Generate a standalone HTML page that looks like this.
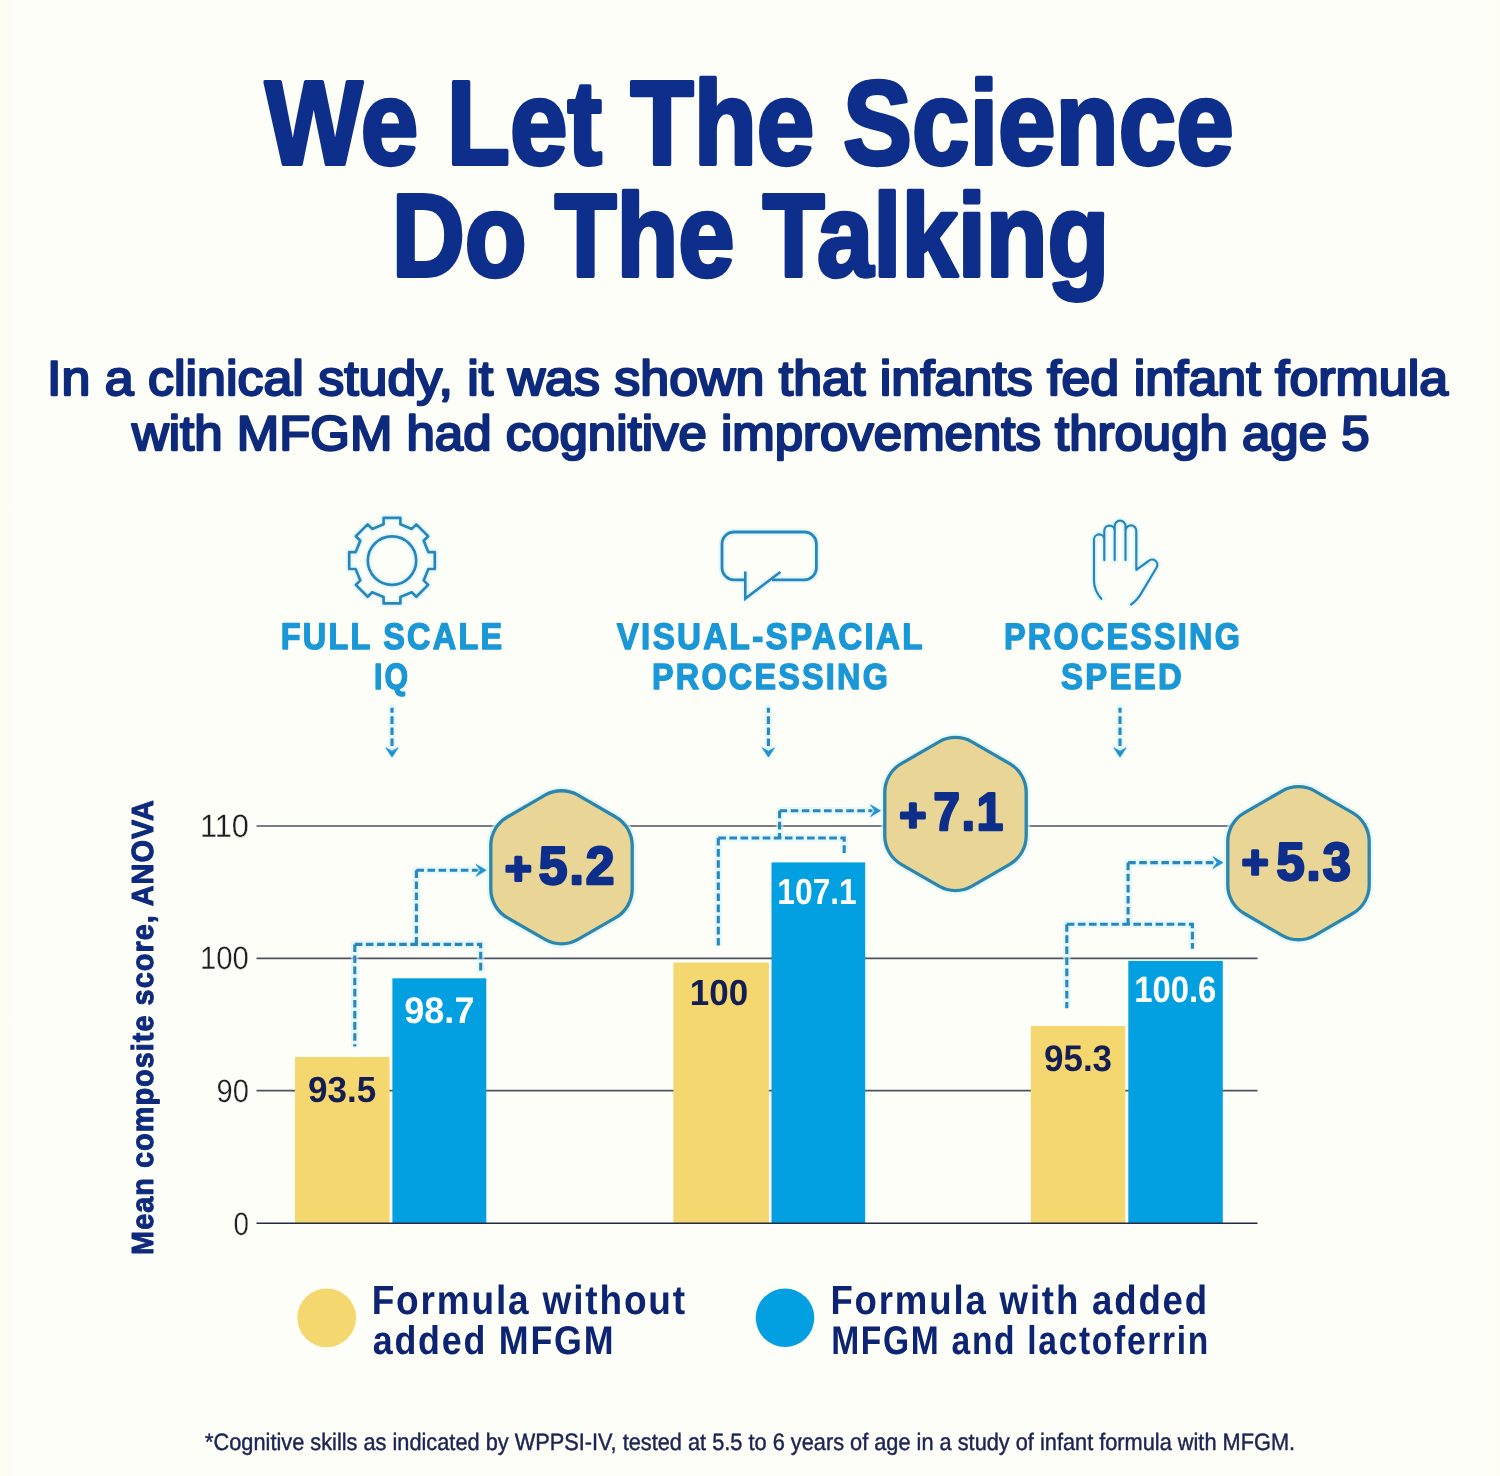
<!DOCTYPE html>
<html lang="en"><head><meta charset="utf-8"><title>We Let The Science Do The Talking</title>
<style>html,body{margin:0;padding:0;background:#fefef9;}body{width:1500px;height:1476px;overflow:hidden;font-family:"Liberation Sans",sans-serif}svg{display:block}</style>
</head><body>
<svg width="1500" height="1476" viewBox="0 0 1500 1476" font-family="'Liberation Sans', Arial, sans-serif" text-rendering="geometricPrecision">
<rect width="1500" height="1476" fill="#fefef9"/>
<defs><linearGradient id="eL" x1="0" x2="1" y1="0" y2="0"><stop offset="0" stop-color="#fbfaee" stop-opacity="0.45"/><stop offset="1" stop-color="#faf8ea" stop-opacity="0"/></linearGradient><linearGradient id="eR" x1="1" x2="0" y1="0" y2="0"><stop offset="0" stop-color="#fbfaee" stop-opacity="0.45"/><stop offset="1" stop-color="#faf8ea" stop-opacity="0"/></linearGradient></defs>
<rect x="0" y="0" width="16" height="1476" fill="url(#eL)"/>
<rect x="1484" y="0" width="16" height="1476" fill="url(#eR)"/>
<line x1="256.5" x2="1257.5" y1="826" y2="826" stroke="#4d525f" stroke-width="1.6"/>
<line x1="256.5" x2="1257.5" y1="958.4" y2="958.4" stroke="#4d525f" stroke-width="1.6"/>
<line x1="256.5" x2="1257.5" y1="1090.6" y2="1090.6" stroke="#4d525f" stroke-width="1.6"/>
<rect x="295" y="1057" width="94.6" height="166.0" fill="#f5d76f"/>
<rect x="392.4" y="978.3" width="93.9" height="244.7" fill="#03a0e1"/>
<rect x="673.4" y="962.5" width="95.5" height="260.5" fill="#f5d76f"/>
<rect x="771.5" y="862.4" width="93.7" height="360.6" fill="#03a0e1"/>
<rect x="1030.8" y="1026" width="94.5" height="197.0" fill="#f5d76f"/>
<rect x="1128.3" y="960.9" width="94.5" height="262.1" fill="#03a0e1"/>
<line x1="256.5" x2="1257.5" y1="1223.2" y2="1223.2" stroke="#242a45" stroke-width="1.5"/>
<path d="M392,707.8 V746.8" fill="none" stroke="#d3f4fd" stroke-width="7.6" stroke-opacity="0.6" stroke-linejoin="round" stroke-linecap="round"/>
<path d="M392,707.8 V746.8" fill="none" stroke="#2a86bb" stroke-width="3.1" stroke-dasharray="7.6 3.5" stroke-dashoffset="2.6"/>
<path d="M386,747.9 L392,751.2 L398,747.9 L392,757 Z" fill="none" stroke="#d3f4fd" stroke-width="4" stroke-opacity="0.6" stroke-linejoin="round" />
<path d="M386,747.9 L392,751.2 L398,747.9 L392,757 Z" fill="#2191cf" stroke="#2191cf" stroke-width="0.8" stroke-linejoin="round"/>
<path d="M768.4,707.8 V746.8" fill="none" stroke="#d3f4fd" stroke-width="7.6" stroke-opacity="0.6" stroke-linejoin="round" stroke-linecap="round"/>
<path d="M768.4,707.8 V746.8" fill="none" stroke="#2a86bb" stroke-width="3.1" stroke-dasharray="7.6 3.5" stroke-dashoffset="2.6"/>
<path d="M762.4,747.9 L768.4,751.2 L774.4,747.9 L768.4,757 Z" fill="none" stroke="#d3f4fd" stroke-width="4" stroke-opacity="0.6" stroke-linejoin="round" />
<path d="M762.4,747.9 L768.4,751.2 L774.4,747.9 L768.4,757 Z" fill="#2191cf" stroke="#2191cf" stroke-width="0.8" stroke-linejoin="round"/>
<path d="M1120,707.8 V746.8" fill="none" stroke="#d3f4fd" stroke-width="7.6" stroke-opacity="0.6" stroke-linejoin="round" stroke-linecap="round"/>
<path d="M1120,707.8 V746.8" fill="none" stroke="#2a86bb" stroke-width="3.1" stroke-dasharray="7.6 3.5" stroke-dashoffset="2.6"/>
<path d="M1114,747.9 L1120,751.2 L1126,747.9 L1120,757 Z" fill="none" stroke="#d3f4fd" stroke-width="4" stroke-opacity="0.6" stroke-linejoin="round" />
<path d="M1114,747.9 L1120,751.2 L1126,747.9 L1120,757 Z" fill="#2191cf" stroke="#2191cf" stroke-width="0.8" stroke-linejoin="round"/>
<path d="M354.8,1046.4 V944.4 H480.7 V973.3" fill="none" stroke="#d3f4fd" stroke-width="7.6" stroke-opacity="0.6" stroke-linejoin="round" />
<path d="M416.4,944.4 V870.3 H478" fill="none" stroke="#d3f4fd" stroke-width="7.6" stroke-opacity="0.6" stroke-linejoin="round" />
<path d="M354.8,944.4 V1046.4" fill="none" stroke="#2a86bb" stroke-width="3.1" stroke-dasharray="7.6 3.5"/>
<path d="M354.8,944.4 H480.7 V973.3" fill="none" stroke="#2a86bb" stroke-width="3.1" stroke-dasharray="7.6 3.5"/>
<path d="M416.4,870.3 V944.4" fill="none" stroke="#2a86bb" stroke-width="3.1" stroke-dasharray="7.6 3.5"/>
<path d="M416.4,870.3 H479" fill="none" stroke="#2a86bb" stroke-width="3.1" stroke-dasharray="7.6 3.5"/>
<path d="M476.2,864.5 L486,870.3 L476.2,876.0999999999999 L480.4,870.3 Z" fill="none" stroke="#d3f4fd" stroke-width="4" stroke-opacity="0.6" stroke-linejoin="round" />
<path d="M476.2,864.5 L486,870.3 L476.2,876.0999999999999 L480.4,870.3 Z" fill="#2191cf" stroke="#2191cf" stroke-width="0.8" stroke-linejoin="round"/>
<path d="M718.3,945.5 V838 H844.2 V853" fill="none" stroke="#d3f4fd" stroke-width="7.6" stroke-opacity="0.6" stroke-linejoin="round" />
<path d="M779.6,838 V810.7 H872.4" fill="none" stroke="#d3f4fd" stroke-width="7.6" stroke-opacity="0.6" stroke-linejoin="round" />
<path d="M718.3,838 V945.5" fill="none" stroke="#2a86bb" stroke-width="3.1" stroke-dasharray="7.6 3.5"/>
<path d="M718.3,838 H844.2 V853" fill="none" stroke="#2a86bb" stroke-width="3.1" stroke-dasharray="7.6 3.5"/>
<path d="M779.6,810.7 V838" fill="none" stroke="#2a86bb" stroke-width="3.1" stroke-dasharray="7.6 3.5"/>
<path d="M779.6,810.7 H873.4" fill="none" stroke="#2a86bb" stroke-width="3.1" stroke-dasharray="7.6 3.5"/>
<path d="M870.6,804.9000000000001 L880.4,810.7 L870.6,816.5 L874.8,810.7 Z" fill="none" stroke="#d3f4fd" stroke-width="4" stroke-opacity="0.6" stroke-linejoin="round" />
<path d="M870.6,804.9000000000001 L880.4,810.7 L870.6,816.5 L874.8,810.7 Z" fill="#2191cf" stroke="#2191cf" stroke-width="0.8" stroke-linejoin="round"/>
<path d="M1066.8,1008.3 V924.2 H1192.4 V948.8" fill="none" stroke="#d3f4fd" stroke-width="7.6" stroke-opacity="0.6" stroke-linejoin="round" />
<path d="M1128.1,924.2 V862.6 H1214.8" fill="none" stroke="#d3f4fd" stroke-width="7.6" stroke-opacity="0.6" stroke-linejoin="round" />
<path d="M1066.8,924.2 V1008.3" fill="none" stroke="#2a86bb" stroke-width="3.1" stroke-dasharray="7.6 3.5"/>
<path d="M1066.8,924.2 H1192.4 V948.8" fill="none" stroke="#2a86bb" stroke-width="3.1" stroke-dasharray="7.6 3.5"/>
<path d="M1128.1,862.6 V924.2" fill="none" stroke="#2a86bb" stroke-width="3.1" stroke-dasharray="7.6 3.5"/>
<path d="M1128.1,862.6 H1215.8" fill="none" stroke="#2a86bb" stroke-width="3.1" stroke-dasharray="7.6 3.5"/>
<path d="M1213.0,856.8000000000001 L1222.8,862.6 L1213.0,868.4 L1217.2,862.6 Z" fill="none" stroke="#d3f4fd" stroke-width="4" stroke-opacity="0.6" stroke-linejoin="round" />
<path d="M1213.0,856.8000000000001 L1222.8,862.6 L1213.0,868.4 L1217.2,862.6 Z" fill="#2191cf" stroke="#2191cf" stroke-width="0.8" stroke-linejoin="round"/>
<path d="M545.00,795.19 A33,33 0 0 1 578.00,795.19 L615.70,816.96 A33,33 0 0 1 632.20,845.53 L632.20,889.07 A33,33 0 0 1 615.70,917.64 L578.00,939.41 A33,33 0 0 1 545.00,939.41 L507.30,917.64 A33,33 0 0 1 490.80,889.07 L490.80,845.53 A33,33 0 0 1 507.30,816.96 Z" fill="none" stroke="#d3f4fd" stroke-width="8" stroke-opacity="0.6"/>
<path d="M545.00,795.19 A33,33 0 0 1 578.00,795.19 L615.70,816.96 A33,33 0 0 1 632.20,845.53 L632.20,889.07 A33,33 0 0 1 615.70,917.64 L578.00,939.41 A33,33 0 0 1 545.00,939.41 L507.30,917.64 A33,33 0 0 1 490.80,889.07 L490.80,845.53 A33,33 0 0 1 507.30,816.96 Z" fill="#e9d596" stroke="#2b85ad" stroke-width="3.3"/>
<path d="M939.00,741.89 A33,33 0 0 1 972.00,741.89 L1009.70,763.66 A33,33 0 0 1 1026.20,792.23 L1026.20,835.77 A33,33 0 0 1 1009.70,864.34 L972.00,886.11 A33,33 0 0 1 939.00,886.11 L901.30,864.34 A33,33 0 0 1 884.80,835.77 L884.80,792.23 A33,33 0 0 1 901.30,763.66 Z" fill="none" stroke="#d3f4fd" stroke-width="8" stroke-opacity="0.6"/>
<path d="M939.00,741.89 A33,33 0 0 1 972.00,741.89 L1009.70,763.66 A33,33 0 0 1 1026.20,792.23 L1026.20,835.77 A33,33 0 0 1 1009.70,864.34 L972.00,886.11 A33,33 0 0 1 939.00,886.11 L901.30,864.34 A33,33 0 0 1 884.80,835.77 L884.80,792.23 A33,33 0 0 1 901.30,763.66 Z" fill="#e9d596" stroke="#2b85ad" stroke-width="3.3"/>
<path d="M1282.00,791.09 A33,33 0 0 1 1315.00,791.09 L1352.70,812.86 A33,33 0 0 1 1369.20,841.43 L1369.20,884.97 A33,33 0 0 1 1352.70,913.54 L1315.00,935.31 A33,33 0 0 1 1282.00,935.31 L1244.30,913.54 A33,33 0 0 1 1227.80,884.97 L1227.80,841.43 A33,33 0 0 1 1244.30,812.86 Z" fill="none" stroke="#d3f4fd" stroke-width="8" stroke-opacity="0.6"/>
<path d="M1282.00,791.09 A33,33 0 0 1 1315.00,791.09 L1352.70,812.86 A33,33 0 0 1 1369.20,841.43 L1369.20,884.97 A33,33 0 0 1 1352.70,913.54 L1315.00,935.31 A33,33 0 0 1 1282.00,935.31 L1244.30,913.54 A33,33 0 0 1 1227.80,884.97 L1227.80,841.43 A33,33 0 0 1 1244.30,812.86 Z" fill="#e9d596" stroke="#2b85ad" stroke-width="3.3"/>
<path d="M383.60,524.20 L383.60,517.80 L400.40,517.80 L400.40,524.20 L411.80,528.92 L416.32,524.40 L428.20,536.28 L423.68,540.80 L428.40,552.20 L434.80,552.20 L434.80,569.00 L428.40,569.00 L423.68,580.40 L428.20,584.92 L416.32,596.80 L411.80,592.28 L400.40,597.00 L400.40,603.40 L383.60,603.40 L383.60,597.00 L372.20,592.28 L367.68,596.80 L355.80,584.92 L360.32,580.40 L355.60,569.00 L349.20,569.00 L349.20,552.20 L355.60,552.20 L360.32,540.80 L355.80,536.28 L367.68,524.40 L372.20,528.92 Z" fill="none" stroke="#d3f4fd" stroke-width="7" stroke-opacity="0.6" stroke-linejoin="round"/>
<circle cx="392" cy="560.6" r="24.2" fill="none" stroke="#d3f4fd" stroke-width="7" stroke-opacity="0.6"/>
<path d="M383.60,524.20 L383.60,517.80 L400.40,517.80 L400.40,524.20 L411.80,528.92 L416.32,524.40 L428.20,536.28 L423.68,540.80 L428.40,552.20 L434.80,552.20 L434.80,569.00 L428.40,569.00 L423.68,580.40 L428.20,584.92 L416.32,596.80 L411.80,592.28 L400.40,597.00 L400.40,603.40 L383.60,603.40 L383.60,597.00 L372.20,592.28 L367.68,596.80 L355.80,584.92 L360.32,580.40 L355.60,569.00 L349.20,569.00 L349.20,552.20 L355.60,552.20 L360.32,540.80 L355.80,536.28 L367.68,524.40 L372.20,528.92 Z" fill="none" stroke="#2886ba" stroke-width="2.7" stroke-linejoin="round"/>
<circle cx="392" cy="560.6" r="24.2" fill="none" stroke="#2886ba" stroke-width="2.7"/>
<path d="M745.3,579.8 H734 A12,12 0 0 1 722,567.8 V544 A12,12 0 0 1 734,532 H804.4 A12,12 0 0 1 816.4,544 V567.8 A12,12 0 0 1 804.4,579.8 H772" fill="none" stroke="#d3f4fd" stroke-width="7" stroke-opacity="0.6"/>
<path d="M745.3,571.5 V598.6 L780.4,572" fill="none" stroke="#d3f4fd" stroke-width="7" stroke-opacity="0.6" stroke-linejoin="round"/>
<path d="M745.3,579.8 H734 A12,12 0 0 1 722,567.8 V544 A12,12 0 0 1 734,532 H804.4 A12,12 0 0 1 816.4,544 V567.8 A12,12 0 0 1 804.4,579.8 H772" fill="none" stroke="#2886ba" stroke-width="2.8"/>
<path d="M745.3,571.5 V598.6 L780.4,572" fill="none" stroke="#2886ba" stroke-width="2.6" stroke-linejoin="miter"/>
<path d="M1101.3,598.9 C1096.5,593 1094,587 1094,581 V539.6 A5.15,5.15 0 0 1 1104.3,539.6 V560.1 M1104.3,539.6 V530.8 A5.2,5.2 0 0 1 1114.7,530.8 V560.1 M1114.7,530.8 V526 A5.4,5.4 0 0 1 1125.5,526 V560.1 M1125.5,530.8 A5.4,5.4 0 0 1 1136.3,530.8 V569.8 L1148.6,561 A5.2,5.2 0 0 1 1156.6,567.5 L1141.5,592.9 C1138.5,598 1135.5,601.5 1131.1,604.5" fill="none" stroke="#d3f4fd" stroke-width="6.5" stroke-opacity="0.6" stroke-linecap="round" stroke-linejoin="round"/>
<path d="M1101.3,598.9 C1096.5,593 1094,587 1094,581 V539.6 A5.15,5.15 0 0 1 1104.3,539.6 V560.1 M1104.3,539.6 V530.8 A5.2,5.2 0 0 1 1114.7,530.8 V560.1 M1114.7,530.8 V526 A5.4,5.4 0 0 1 1125.5,526 V560.1 M1125.5,530.8 A5.4,5.4 0 0 1 1136.3,530.8 V569.8 L1148.6,561 A5.2,5.2 0 0 1 1156.6,567.5 L1141.5,592.9 C1138.5,598 1135.5,601.5 1131.1,604.5" fill="none" stroke="#2886ba" stroke-width="2.2" stroke-linecap="round" stroke-linejoin="round"/>
<circle cx="326.7" cy="1317.8" r="29.4" fill="#f5d76f"/>
<circle cx="785" cy="1317.8" r="29.3" fill="#03a0e1"/>
<text transform="matrix(0.8670 0 0 1 265.00 164.00)" font-size="119.19" font-weight="bold" fill="#0d2f8b" stroke="#0d2f8b" stroke-width="4" stroke-linejoin="round">We Let The Science</text>
<text transform="matrix(0.8596 0 0 1 391.67 276.00)" font-size="117.73" font-weight="bold" fill="#0d2f8b" stroke="#0d2f8b" stroke-width="4" stroke-linejoin="round">Do The Talking</text>
<text transform="matrix(1.0598 0 0 1 47.09 394.85)" font-size="48.98" font-weight="normal" fill="#0e2a7c" stroke="#0e2a7c" stroke-width="2.3" stroke-linejoin="round">In a clinical study, it was shown that infants fed infant formula</text>
<text transform="matrix(1.0405 0 0 1 131.95 449.85)" font-size="48.98" font-weight="normal" fill="#0e2a7c" stroke="#0e2a7c" stroke-width="2.3" stroke-linejoin="round">with MFGM had cognitive improvements through age 5</text>
<text transform="matrix(0.8749 0 0 1 280.67 648.90)" font-size="37.06" letter-spacing="2.59" font-weight="bold" fill="#1a97d6" stroke="#1a97d6" stroke-width="1.4" stroke-linejoin="round">FULL SCALE</text>
<text transform="matrix(0.8313 0 0 1 374.00 688.50)" font-size="36.48" letter-spacing="2.55" font-weight="bold" fill="#1a97d6" stroke="#1a97d6" stroke-width="1.4" stroke-linejoin="round">IQ</text>
<text transform="matrix(0.8981 0 0 1 616.70 649.30)" font-size="36.92" letter-spacing="2.58" font-weight="bold" fill="#1a97d6" stroke="#1a97d6" stroke-width="1.4" stroke-linejoin="round">VISUAL-SPACIAL</text>
<text transform="matrix(0.8897 0 0 1 651.98 689.30)" font-size="36.34" letter-spacing="2.54" font-weight="bold" fill="#1a97d6" stroke="#1a97d6" stroke-width="1.4" stroke-linejoin="round">PROCESSING</text>
<text transform="matrix(0.8757 0 0 1 1003.98 649.30)" font-size="36.92" letter-spacing="2.58" font-weight="bold" fill="#1a97d6" stroke="#1a97d6" stroke-width="1.4" stroke-linejoin="round">PROCESSING</text>
<text transform="matrix(0.9055 0 0 1 1060.99 689.30)" font-size="36.34" letter-spacing="2.54" font-weight="bold" fill="#1a97d6" stroke="#1a97d6" stroke-width="1.4" stroke-linejoin="round">SPEED</text>
<text transform="matrix(0.9480 0 0 1 199.93 836.55)" font-size="32.41" font-weight="normal" fill="#1e1e1e" stroke="#fefef9" stroke-width="0.3">110</text>
<text transform="matrix(0.9035 0 0 1 200.02 969.35)" font-size="32.41" font-weight="normal" fill="#1e1e1e" stroke="#fefef9" stroke-width="0.3">100</text>
<text transform="matrix(0.8984 0 0 1 216.49 1101.75)" font-size="32.41" font-weight="normal" fill="#1e1e1e" stroke="#fefef9" stroke-width="0.3">90</text>
<text transform="matrix(0.8577 0 0 1 233.38 1234.55)" font-size="32.41" font-weight="normal" fill="#1e1e1e" stroke="#fefef9" stroke-width="0.3">0</text>
<text transform="matrix(0.9653 0 0 1 307.90 1102.00)" font-size="36.34" font-weight="bold" fill="#151e52">93.5</text>
<text transform="matrix(0.9730 0 0 1 404.27 1022.80)" font-size="37.06" font-weight="bold" fill="#ffffff">98.7</text>
<text transform="matrix(0.9616 0 0 1 689.82 1005.00)" font-size="36.34" font-weight="bold" fill="#151e52">100</text>
<text transform="matrix(0.8740 0 0 1 777.32 904.30)" font-size="36.34" font-weight="bold" fill="#ffffff">107.1</text>
<text transform="matrix(0.9435 0 0 1 1044.01 1070.50)" font-size="37.06" font-weight="bold" fill="#151e52">95.3</text>
<text transform="matrix(0.8953 0 0 1 1134.25 1001.70)" font-size="36.63" font-weight="bold" fill="#ffffff">100.6</text>
<text transform="matrix(0.9678 0 0 1 538.70 883.50)" font-size="53.20" letter-spacing="2.13" font-weight="bold" fill="#0d2f8b" stroke="#0d2f8b" stroke-width="2.6" stroke-linejoin="round">5.2</text>
<text transform="matrix(0.8896 0 0 1 933.42 830.20)" font-size="53.34" letter-spacing="2.13" font-weight="bold" fill="#0d2f8b" stroke="#0d2f8b" stroke-width="2.6" stroke-linejoin="round">7.1</text>
<text transform="matrix(0.9468 0 0 1 1276.51 880.30)" font-size="53.34" letter-spacing="2.13" font-weight="bold" fill="#0d2f8b" stroke="#0d2f8b" stroke-width="2.6" stroke-linejoin="round">5.3</text>
<text transform="matrix(0.4558 0 0 0.4558 505.08 884.06)" font-size="100" font-weight="bold" fill="#0d2f8b" stroke="#0d2f8b" stroke-width="6.58" stroke-linejoin="round">+</text>
<text transform="matrix(0.4577 0 0 0.4655 899.47 830.64)" font-size="100" font-weight="bold" fill="#0d2f8b" stroke="#0d2f8b" stroke-width="6.50" stroke-linejoin="round">+</text>
<text transform="matrix(0.4577 0 0 0.4655 1241.87 878.14)" font-size="100" font-weight="bold" fill="#0d2f8b" stroke="#0d2f8b" stroke-width="6.50" stroke-linejoin="round">+</text>
<text transform="matrix(0.9087 0 0 1 371.69 1314.00)" font-size="40.70" letter-spacing="2.03" font-weight="bold" fill="#0d2473">Formula without</text>
<text transform="matrix(0.8923 0 0 1 372.74 1354.30)" font-size="40.12" letter-spacing="2.01" font-weight="bold" fill="#0d2473">added MFGM</text>
<text transform="matrix(0.8996 0 0 1 830.41 1313.60)" font-size="40.70" letter-spacing="2.03" font-weight="bold" fill="#0d2473">Formula with added</text>
<text transform="matrix(0.8372 0 0 1 831.20 1354.30)" font-size="40.12" letter-spacing="2.01" font-weight="bold" fill="#0d2473">MFGM and lactoferrin</text>
<text transform="matrix(0.9161 0 0 1 205.08 1449.78)" font-size="23.76" font-weight="normal" fill="#1c2452" stroke="#1c2452" stroke-width="0.45" stroke-linejoin="round">*Cognitive skills as indicated by WPPSI-IV, tested at 5.5 to 6 years of age in a study of infant formula with MFGM.</text>
<text transform="translate(152.5 1254.91) rotate(-90) scale(0.9464 1)" font-size="30.52" letter-spacing="1.07" font-weight="bold" fill="#0e2a7c" stroke="#0e2a7c" stroke-width="1.0" stroke-linejoin="round">Mean composite score, ANOVA</text>
</svg>
</body></html>
